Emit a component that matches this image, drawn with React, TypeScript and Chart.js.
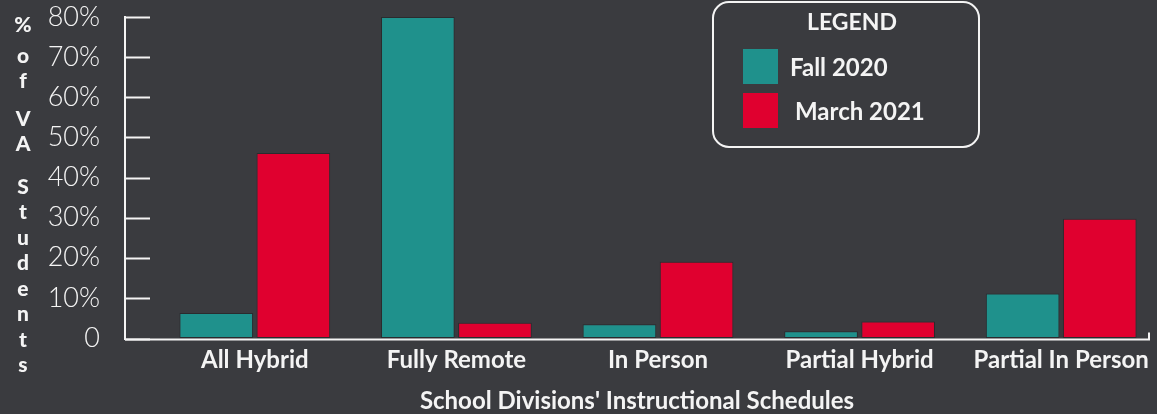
import React, { useEffect, useRef } from "react";
import { Chart, registerables } from "chart.js";

Chart.register(...registerables);

const categories = ["All Hybrid", "Fully Remote", "In Person", "Partial Hybrid", "Partial In Person"];
const fall2020 = [6.2, 80, 3.4, 1.7, 11.1];
const march2021 = [46.1, 3.8, 19.0, 4.1, 29.7];
const seriesLabels = ["Fall 2020", "March 2021"];
const yTickValues = [0, 10, 20, 30, 40, 50, 60, 70, 80];
const yTitle = "% of VA Students";
const xTitle = "School Divisions' Instructional Schedules";
const legendTitle = "LEGEND";

const BG = "#3a3b3f";
const TEAL = "#1f918c";
const RED = "#e0002f";
const WHITE = "#f4f4f4";
const FONT = "Lato, 'Open Sans', sans-serif";
const CANVAS_W = 1162;
const VIEW_W = 1157;

const decorPlugin = {
  id: "decor",
  afterDatasetsDraw(chart: any) {
    const ctx = chart.ctx;
    const area = chart.chartArea;
    const y = chart.scales.y;
    const axisX = area.left - 29;
    const axisRight = VIEW_W - 8;
    ctx.save();
    ctx.strokeStyle = WHITE;
    ctx.lineWidth = 2;
    // y axis line
    ctx.beginPath();
    ctx.moveTo(axisX, y.getPixelForValue(80) - 1);
    ctx.lineTo(axisX, area.bottom + 2);
    ctx.stroke();
    // inward ticks
    yTickValues.forEach((v) => {
      const py = Math.round(y.getPixelForValue(v)) + 0.5;
      ctx.beginPath();
      ctx.moveTo(axisX, v === 0 ? py + 1 : py);
      ctx.lineTo(axisX + 25, v === 0 ? py + 1 : py);
      ctx.stroke();
    });
    // x axis line
    const bx = area.bottom + 1.5;
    ctx.beginPath();
    ctx.moveTo(axisX, bx);
    ctx.lineTo(axisRight, bx);
    ctx.lineTo(axisRight, bx - 7);
    ctx.stroke();
    ctx.restore();
  },
  afterDraw(chart: any) {
    const ctx = chart.ctx;
    ctx.save();
    // vertical y title
    ctx.fillStyle = WHITE;
    ctx.font = `900 21px ${FONT}`;
    ctx.textAlign = "center";
    ctx.textBaseline = "alphabetic";
    const spaceGaps = [5, 12, 17];
    let by = 32;
    let spaceIdx = 0;
    let first = true;
    for (const ch of yTitle) {
      if (ch === " ") {
        by += spaceGaps[spaceIdx++] || 12;
        continue;
      }
      if (!first) by += 25.5;
      first = false;
      ctx.fillText(ch, 23, by);
    }
    // legend box
    const lx = 713, ly = 2, lw = 266, lh = 145;
    ctx.strokeStyle = WHITE;
    ctx.lineWidth = 2;
    ctx.beginPath();
    (ctx as any).roundRect(lx, ly, lw, lh, 16);
    ctx.stroke();
    ctx.textBaseline = "middle";
    ctx.font = `700 23px ${FONT}`;
    ctx.textAlign = "center";
    ctx.fillText(legendTitle, lx + 139, 23);
    ctx.font = `700 24px ${FONT}`;
    const colors = [TEAL, RED];
    const rows = [68, 112];
    const textX = [790, 795];
    seriesLabels.forEach((lab, i) => {
      ctx.fillStyle = colors[i];
      ctx.fillRect(743, rows[i] - 19, 35, 35);
      ctx.fillStyle = WHITE;
      ctx.textAlign = "left";
      ctx.fillText(lab, textX[i], rows[i]);
    });
    ctx.restore();
  },
};

export default function App() {
  const ref = useRef<HTMLCanvasElement>(null);
  useEffect(() => {
    if (!ref.current) return;
    const chart = new Chart(ref.current, {
      type: "bar",
      data: {
        labels: categories,
        datasets: [
          {
            label: seriesLabels[0],
            data: fall2020,
            backgroundColor: TEAL,
            borderColor: "#2a2b2e",
            borderWidth: 1,
            borderSkipped: false,
            categoryPercentage: 0.765,
            barPercentage: 0.955,
          },
          {
            label: seriesLabels[1],
            data: march2021,
            backgroundColor: RED,
            borderColor: "#2a2b2e",
            borderWidth: 1,
            borderSkipped: false,
            categoryPercentage: 0.765,
            barPercentage: 0.955,
          },
        ],
      },
      options: {
        animation: false,
        responsive: false,
        layout: { padding: { top: 17, left: 0, right: 0, bottom: 0 } },
        plugins: {
          legend: { display: false },
          tooltip: { enabled: false },
        },
        scales: {
          x: {
            grid: { display: false },
            border: { display: false },
            ticks: {
              color: WHITE,
              font: { family: FONT, size: 24, weight: "bold" },
              padding: 0,
              maxRotation: 0,
              autoSkip: false,
            },
            title: {
              display: false,
            },
            afterFit: (s: any) => {
              s.height = 76;
              s.paddingLeft = 0;
              s.paddingRight = 0;
            },
          },
          y: {
            min: 0,
            max: 80,
            grid: { display: false },
            border: { display: false },
            afterBuildTicks: (s: any) => {
              s.ticks = yTickValues.map((v) => ({ value: v }));
            },
            ticks: {
              color: WHITE,
              font: { family: FONT, size: 27, weight: "300" },
              padding: 46,
              callback: (v: any) => (v === 0 ? "0" : `${v}%`),
            },
            afterFit: (s: any) => {
              s.width = 154;
              s.paddingTop = 0;
              s.paddingBottom = 0;
            },
          },
        },
      },
      plugins: [
        decorPlugin,
        {
          id: "xTitle",
          afterDraw(c: any) {
            const ctx = c.ctx;
            ctx.save();
            ctx.fillStyle = WHITE;
            ctx.font = `700 24px ${FONT}`;
            ctx.textAlign = "center";
            ctx.textBaseline = "middle";
            ctx.fillText(xTitle, (c.chartArea.left - 29 + VIEW_W - 8) / 2, 401);
            ctx.restore();
          },
        },
      ],
    });
    return () => chart.destroy();
  }, []);
  return (
    <div
      style={{
        position: "fixed",
        left: 0,
        top: 0,
        width: VIEW_W,
        height: 414,
        background: BG,
        overflow: "hidden",
      }}
    >
      <canvas ref={ref} width={CANVAS_W} height={414} style={{ display: "block" }} />
    </div>
  );
}
